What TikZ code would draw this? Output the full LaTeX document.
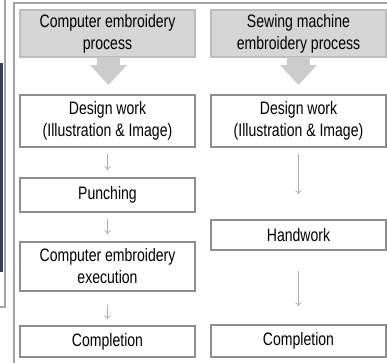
\documentclass[tikz,border=0pt]{standalone}
\usepackage{fontspec}
\usetikzlibrary{arrows.meta}
\setmainfont{Liberation Sans}[FakeStretch=0.78]
\begin{document}
\begin{tikzpicture}[x=0.75pt,y=-0.75pt,
  stepbox/.style={draw=boxgray,line width=1.1pt,fill=white,inner sep=0pt,
    minimum width=175*0.75pt,align=center,font=\fontsize{13.5}{16.5}\selectfont},
  headbox/.style={stepbox,draw=headborder,fill=headfill},
  bigarrow/.style={fill=arrowfill,draw=none},
  thinarrow/.style={draw=arrowgray,line width=0.5pt,-{To[length=3pt,width=5pt]}}]
\definecolor{boxgray}{HTML}{8E8E8E}
\definecolor{headborder}{HTML}{BDBDBD}
\definecolor{headfill}{HTML}{D6D6D6}
\definecolor{arrowfill}{HTML}{CCCCCC}
\definecolor{arrowgray}{HTML}{AFAFAF}
\definecolor{framegray}{HTML}{A4A4A4}
\definecolor{photo}{HTML}{3A3F52}
\useasboundingbox (0,0) rectangle (387,362);
% left fragment
\fill[photo] (0,63) rectangle (3.5,272);
\draw[framegray,line width=1.1pt] (5,0) -- (5,307) -- (0,307);
% frame
\draw[framegray,line width=1.3pt] (14,365) -- (14,3) -- (390,3);
% headers
\node[headbox,minimum height=47*0.75pt] (h1) at (107.5,33.5) {Computer embroidery\\process};
\node[headbox,minimum height=47*0.75pt] (h2) at (298.5,33.5) {Sewing machine\\embroidery process};
% big arrows
\fill[bigarrow] (97,57) -- (120,57) -- (120,65) -- (127,65) -- (108.5,85) -- (90,65) -- (97,65) -- cycle;
\fill[bigarrow] (287,57) -- (310,57) -- (310,65) -- (317,65) -- (298.5,85) -- (280,65) -- (287,65) -- cycle;
% left column
\node[stepbox,minimum height=52*0.75pt] (d1) at (107.5,121) {Design work\\(Illustration \& Image)};
\node[stepbox,minimum height=34*0.75pt] (p1) at (107.5,195) {Punching};
\node[stepbox,minimum height=49*0.75pt] (e1) at (107.5,266.5) {Computer embroidery\\execution};
\node[stepbox,minimum height=31*0.75pt] (c1) at (107.5,341.5) {Completion};
% right column
\node[stepbox,minimum height=52*0.75pt] (d2) at (298.5,121) {Design work\\(Illustration \& Image)};
\node[stepbox,minimum height=30*0.75pt] (w2) at (298.5,235) {Handwork};
\node[stepbox,minimum height=32*0.75pt] (c2) at (298.5,341) {Completion};
% thin arrows
\draw[thinarrow,shorten <=6*0.75pt,shorten >=7*0.75pt] (d1) -- (p1);
\draw[thinarrow,shorten <=6*0.75pt,shorten >=7*0.75pt] (p1) -- (e1);
\draw[thinarrow,shorten <=13*0.75pt,shorten >=6*0.75pt] (e1) -- (c1);
\draw[thinarrow,shorten <=6*0.75pt,shorten >=25*0.75pt] (d2) -- (w2);
\draw[thinarrow,shorten <=20*0.75pt,shorten >=18*0.75pt] (w2) -- (c2);
\end{tikzpicture}
\end{document}
